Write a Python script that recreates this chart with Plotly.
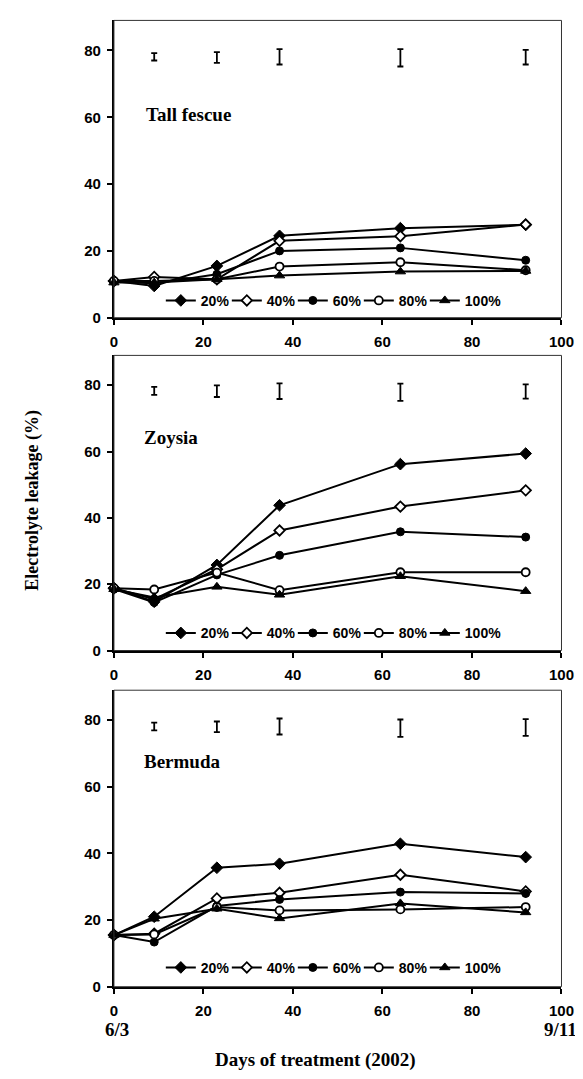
import plotly.graph_objects as go

# ---------------- data ----------------
days = [0, 9, 23, 37, 64, 92]
series_names = ["20%", "40%", "60%", "80%", "100%"]

tf_20 = [11, 9.5, 15.5, 24.5, 26.8, 27.8]
tf_40 = [11, 12.2, 11.5, 23.0, 24.4, 27.9]
tf_60 = [11, 10.2, 13.0, 20.0, 20.9, 17.2]
tf_80 = [11, 11.0, 11.5, 15.3, 16.6, 14.2]
tf_100 = [10.5, 10.5, 11.5, 12.6, 13.8, 14.0]

zo_20 = [18.8, 14.7, 25.8, 43.8, 56.2, 59.4]
zo_40 = [18.8, 15.5, 24.5, 36.2, 43.4, 48.3]
zo_60 = [18.5, 14.5, 22.8, 28.7, 35.8, 34.2]
zo_80 = [18.8, 18.4, 23.5, 18.2, 23.6, 23.6]
zo_100 = [18.5, 16.0, 19.2, 16.8, 22.4, 17.9]

be_20 = [15.5, 21.0, 35.7, 36.9, 42.9, 38.9]
be_40 = [15.5, 15.9, 26.5, 28.2, 33.6, 28.6]
be_60 = [15.5, 13.4, 24.2, 26.2, 28.4, 28.0]
be_80 = [15.5, 15.7, 23.9, 22.9, 23.2, 23.9]
be_100 = [15.5, 20.4, 23.4, 20.5, 25.0, 22.3]

err_days = [9, 23, 37, 64, 92]
tf_err_mid = [78.1, 77.9, 78.1, 77.8, 78.0]
tf_err_half = [1.1, 1.6, 2.3, 2.6, 2.2]
zo_err_mid = [78.3, 78.2, 78.2, 77.9, 78.1]
zo_err_half = [1.2, 1.75, 2.35, 2.6, 2.15]
be_err_mid = [78.1, 78.0, 78.1, 77.6, 77.8]
be_err_half = [1.15, 1.6, 2.4, 2.6, 2.5]

panel_names = ["Tall fescue", "Zoysia", "Bermuda"]
x_ticks = [0, 20, 40, 60, 80, 100]
y_ticks = [0, 20, 40, 60, 80]
y_title = "Electrolyte leakage (%)"
x_title = "Days of treatment (2002)"
start_date = "6/3"
end_date = "9/11"

# ---------------- styling ----------------
SERIF = "Liberation Serif"
SANS = "Liberation Sans"
W, H = 583, 1079

def px_x(p):
    return p / W

def px_y(p):
    return 1 - p / H

x_dom = [px_x(105), px_x(566)]
panels = [
    dict(top=12.5, bottom=312, series=[tf_20, tf_40, tf_60, tf_80, tf_100],
         emid=tf_err_mid, ehalf=tf_err_half, label_xy=(136, 107), leg_y=295),
    dict(top=350, bottom=647.3, series=[zo_20, zo_40, zo_60, zo_80, zo_100],
         emid=zo_err_mid, ehalf=zo_err_half, label_xy=(134, 433), leg_y=630),
    dict(top=687.3, bottom=986, series=[be_20, be_40, be_60, be_80, be_100],
         emid=be_err_mid, ehalf=be_err_half, label_xy=(134, 759), leg_y=967),
]

markers = [
    dict(symbol="diamond", size=9, color="black", line=dict(color="black", width=1)),
    dict(symbol="diamond", size=8, color="white", line=dict(color="black", width=1.8)),
    dict(symbol="circle", size=8, color="black", line=dict(color="black", width=1)),
    dict(symbol="circle", size=8, color="white", line=dict(color="black", width=1.8)),
    dict(symbol="triangle-up", size=9, color="black", line=dict(color="black", width=1)),
]
legend_widths = [21, 21, 21, 21, 38]

fig = go.Figure()
layout = dict(
    width=W, height=H,
    margin=dict(l=0, r=0, t=0, b=0),
    paper_bgcolor="white", plot_bgcolor="white",
    font=dict(family=SANS, color="black"),
    annotations=[], shapes=[],
)

for i, p in enumerate(panels):
    k = "" if i == 0 else str(i + 1)
    xa, ya = "x" + k, "y" + k
    leg = "legend" + k
    for j, name in enumerate(series_names):
        fig.add_trace(go.Scatter(
            x=days, y=p["series"][j], name=name, mode="lines+markers",
            line=dict(color="black", width=2), marker=markers[j],
            xaxis=xa, yaxis=ya, legend=leg, legendwidth=legend_widths[j],
            cliponaxis=False,
        ))
    fig.add_trace(go.Scatter(
        x=err_days, y=p["emid"], mode="markers",
        marker=dict(size=1, color="rgba(0,0,0,0)"),
        error_y=dict(type="data", array=p["ehalf"], color="black", thickness=1.8, width=3),
        xaxis=xa, yaxis=ya, showlegend=False, hoverinfo="skip",
    ))
    layout["xaxis" + k] = dict(
        domain=x_dom, anchor=ya, range=[0, 100], tickvals=x_ticks,
        ticks="outside", ticklen=5, tickwidth=2, tickcolor="black",
        showline=True, linecolor="black", linewidth=2, showgrid=False, zeroline=False,
        ticklabelstandoff=4,
        tickfont=dict(family=SANS, size=15, color="black", weight="bold"),
    )
    layout["yaxis" + k] = dict(
        domain=[px_y(p["bottom"]), px_y(p["top"])], anchor=xa, range=[0, 89],
        tickvals=y_ticks, ticks="outside", ticklen=5, tickwidth=2, tickcolor="black",
        showline=True, linecolor="black", linewidth=2, showgrid=False, zeroline=False,
        ticklabelstandoff=3,
        tickfont=dict(family=SANS, size=15, color="black", weight="bold"),
    )
    layout[leg] = dict(
        orientation="h", x=px_x(332), y=px_y(p["leg_y"]), xanchor="center", yanchor="middle",
        bgcolor="rgba(0,0,0,0)", borderwidth=0, itemwidth=30, tracegroupgap=0,
        entrywidthmode="pixels",
        font=dict(family=SANS, size=14, color="black", weight="bold"),
    )
    layout["shapes"].append(dict(
        type="rect", xref=xa + " domain", yref=ya + " domain", x0=0, x1=1, y0=0, y1=1,
        line=dict(color="#333", width=1), layer="above",
    ))
    layout["annotations"].append(dict(
        text="<b>" + panel_names[i] + "</b>", xref="paper", yref="paper",
        x=px_x(p["label_xy"][0]), y=px_y(p["label_xy"][1]), xanchor="left", yanchor="middle",
        showarrow=False, font=dict(family=SERIF, size=19, color="black"),
    ))

layout["annotations"] += [
    dict(text="<b>" + y_title + "</b>", textangle=-90, xref="paper", yref="paper",
         x=px_x(21), y=px_y(496), xanchor="center", yanchor="middle", showarrow=False,
         font=dict(family=SERIF, size=18, color="black")),
    dict(text="<b>" + start_date + "</b>", xref="paper", yref="paper",
         x=px_x(108), y=px_y(1029), xanchor="center", yanchor="middle", showarrow=False,
         font=dict(family=SERIF, size=19, color="black")),
    dict(text="<b>" + end_date + "</b>", xref="paper", yref="paper",
         x=px_x(565), y=px_y(1029), xanchor="center", yanchor="middle", showarrow=False,
         font=dict(family=SERIF, size=19, color="black")),
    dict(text="<b>" + x_title + "</b>", xref="paper", yref="paper",
         x=px_x(313), y=px_y(1060), xanchor="center", yanchor="middle", showarrow=False,
         font=dict(family=SERIF, size=19, color="black")),
]

fig.update_layout(**layout)
fig.write_html("out.html")
